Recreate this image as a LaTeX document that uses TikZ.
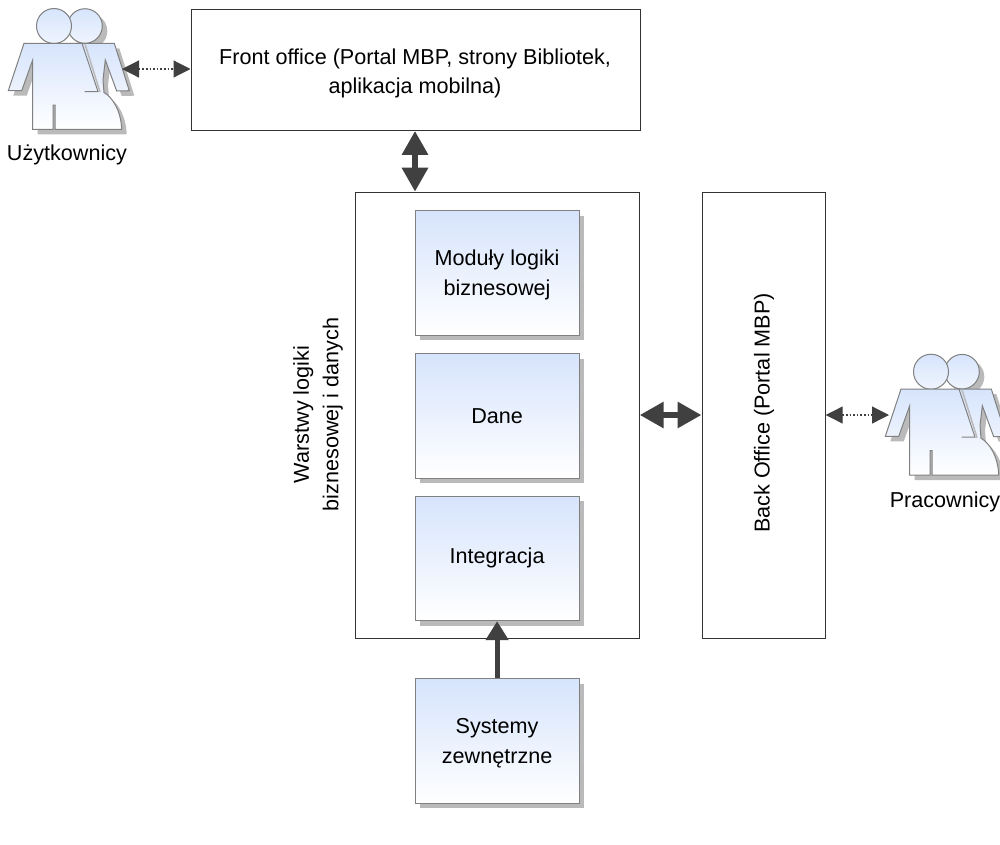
\documentclass[tikz,border=0pt]{standalone}
\usepackage{fontspec}
\setmainfont{Liberation Sans}
\usetikzlibrary{arrows.meta,shadows}
\definecolor{edge}{HTML}{333333}
\definecolor{arrowc}{HTML}{404040}
\definecolor{grayedge}{HTML}{808080}
\definecolor{shadowc}{HTML}{BABABA}
\definecolor{topc}{HTML}{D6E4FC}
\definecolor{headb}{HTML}{F0F5FE}
\newcommand{\lowerstrut}{\rule{0pt}{19pt}}
\tikzset{
  x=1pt,y=-1pt,
  every node/.style={font=\fontsize{21.6}{29.5}\selectfont,text=black,align=center,inner sep=0pt},
  plainbox/.style={draw=edge,line width=1.2pt,fill=white,rectangle,anchor=north west},
  bluebox/.style={draw=grayedge,line width=1.2pt,rectangle,anchor=north west,top color=topc,bottom color=white,
    minimum width=164pt,minimum height=124.5pt,
    drop shadow={shadow xshift=5pt,shadow yshift=-5pt,fill=shadowc,opacity=1}},
  bigarrow/.style={draw=arrowc,line width=6pt,{Triangle[length=24pt,width=25pt,fill=arrowc]}-{Triangle[length=24pt,width=25pt,fill=arrowc]}},
  uparrow/.style={draw=arrowc,line width=5pt,-{Triangle[length=19pt,width=22pt,fill=arrowc]}},
  smallarrow/.style={draw=arrowc,line width=1.2pt,dash pattern=on 1.6pt off 2pt,{Triangle[length=17pt,width=17pt,fill=arrowc]}-{Triangle[length=17pt,width=17pt,fill=arrowc]}},
  personline/.style={draw=grayedge,line width=1pt},
  person/.pic={
    \fill[shadowc,shift={(5,5)}] (24,43.3) -- (8.3,90.7) -- (21.7,90.7) -- (32.7,60) -- (32.7,129.3) -- (121.7,129.3) .. controls (121,110) and (112,97) .. (104,92.5) -- (103,80) -- (105.3,60) -- (116.7,91) -- (129.3,90.7) -- (114.3,43.3) -- cycle;
    \fill[shadowc] (90,31) circle[radius=17.3];
    \draw[personline,top color=topc,bottom color=headb] (85,26) circle[radius=17.3];
    \draw[personline,top color=topc,bottom color=headb] (54,26) circle[radius=17.5];
    \draw[personline,top color=topc,bottom color=white] (24,43.3) -- (8.3,90.7) -- (21.7,90.7) -- (32.7,60) -- (32.7,129.3) -- (53,129.3) -- (53,105) -- (55,105) -- (55,129.3) -- (121.7,129.3) .. controls (121,110) and (112,97) .. (104,92.5) -- (103,80) -- (105.3,60) -- (116.7,91) -- (129.3,90.7) -- (114.3,43.3) -- cycle;
    \draw[shadowc,line width=1.5pt] (85,44) -- (100,92);
    \draw[personline] (82,43.3) -- (98,91.5) -- (84.5,91.5);
  }
}
\begin{document}
\begin{tikzpicture}
\useasboundingbox[fill=white] (0,0) rectangle (1000,844);
% boxes
\node[plainbox,minimum width=449pt,minimum height=121pt] (front) at (190.5,8.7) {};
\node (fronttext) at (415,73.5) {Front office (Portal MBP, strony Bibliotek,\\aplikacja mobilna)};
\node[plainbox,minimum width=284pt,minimum height=446pt] (logic) at (354.5,191.7) {};
\node[plainbox,minimum width=123pt,minimum height=446pt] (back) at (701.5,191.7) {};
\node[bluebox] (mod) at (414.5,210.2) {\lowerstrut Moduły logiki\\biznesowej};
\node[bluebox] (dane) at (414.5,353) {Dane};
\node[bluebox] (integ) at (414.5,495.5) {Integracja};
\node[bluebox] (sys) at (414.5,678.2) {\lowerstrut Systemy\\zewnętrzne};
\node[rotate=90] (logiclabel) at (318,414.5) {Warstwy logiki\\biznesowej i danych};
\node[rotate=90] (backlabel) at (764,413) {Back Office (Portal MBP)};
% people
\pic at (0,0) {person};
\pic at (877,345.7) {person};
\node (ulabel) at (67,155) {Użytkownicy};
\node (plabel) at (945,502) {Pracownicy};
\coordinate (uright) at (122,69);
\coordinate (pleft) at (889,415);
\coordinate (frontw) at (front.west |- uright);
\coordinate (backe) at (back.east |- pleft);
\coordinate (fs) at (front.south -| 415,0);
\coordinate (ln) at (logic.north -| 415,0);
\coordinate (le) at (logic.east |- 0,415);
\coordinate (bw) at (back.west |- 0,415);
% connectors
\draw[smallarrow] (uright) -- (frontw);
\draw[smallarrow] (backe) -- (pleft);
\draw[bigarrow] (fs) -- (ln);
\draw[bigarrow] (le) -- (bw);
\draw[uparrow] (sys.north) -- (integ.south);
\end{tikzpicture}
\end{document}
